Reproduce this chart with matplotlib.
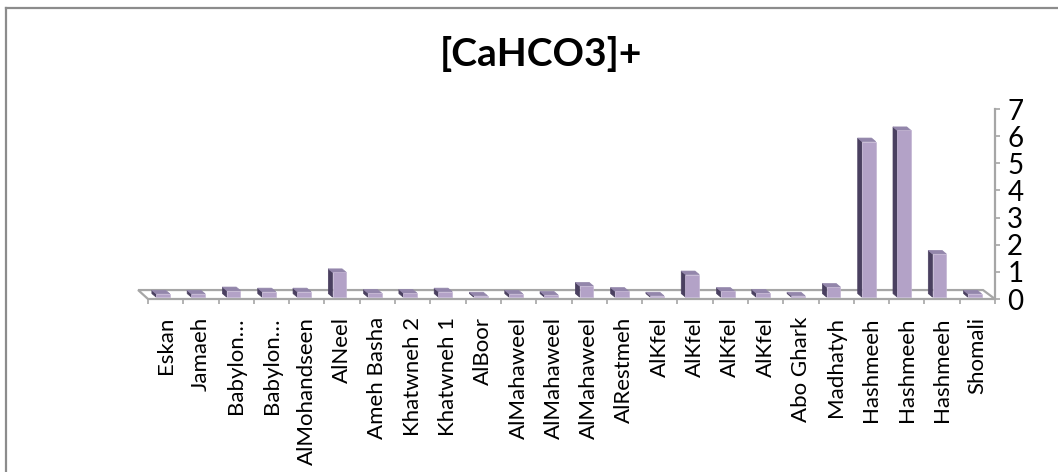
import matplotlib.pyplot as plt
from matplotlib.patches import Polygon, Rectangle
from matplotlib.lines import Line2D

plt.rcParams['font.family'] = ['Lato', 'DejaVu Sans']

sites = ['Eskan', 'Jamaeh', 'Babylon…', 'Babylon…', 'AlMohandseen', 'AlNeel',
         'Ameh Basha', 'Khatwneh 2', 'Khatwneh 1', 'AlBoor', 'AlMahaweel',
         'AlMahaweel', 'AlMahaweel', 'AlRestmeh', 'AlKfel', 'AlKfel', 'AlKfel',
         'AlKfel', 'Abo Ghark', 'Madhatyh', 'Hashmeeh', 'Hashmeeh', 'Hashmeeh',
         'Shomali']
cahco3 = [0.12, 0.12, 0.24, 0.2, 0.2, 0.91, 0.15, 0.15, 0.2, 0.05, 0.12, 0.08,
          0.41, 0.22, 0.05, 0.83, 0.22, 0.15, 0.05, 0.37, 5.73, 6.14, 1.59, 0.12]
yticks = [0, 1, 2, 3, 4, 5, 6, 7]

W, H = 1058, 472
fig = plt.figure(figsize=(W / 100, H / 100), dpi=100)
fig.patch.set_facecolor('white')

# chart frame (only left and top edges fall inside the picture)
frame = '#8C8C8C'
fig.add_artist(Line2D([5.5 / W, 5.5 / W], [0, 1 - 7.5 / H], transform=fig.transFigure,
                      color=frame, lw=1.6))
fig.add_artist(Line2D([5.5 / W, 1], [1 - 7.5 / H, 1 - 7.5 / H], transform=fig.transFigure,
                      color=frame, lw=1.6))

fig.text(541 / W, 1 - 54 / H, '[CaHCO3]+', ha='center', va='center',
         fontsize=28, fontweight='bold')

ax = fig.add_axes([148 / W, (H - 299) / H, 847 / W, 190 / H])
ax.set_xlim(-0.5, len(sites) - 0.5)
ax.set_ylim(0, 7)
ax.patch.set_alpha(0)

grey = '#A6A6A6'
n = len(sites)

# floor of the 3-D plot area
floor = Polygon([(-0.5, 0), (n - 0.5, 0), (n - 0.5 - 0.34, 0.33), (-0.5 - 0.28, 0.33)],
                closed=True, facecolor='white', edgecolor=grey, lw=1.6,
                clip_on=False, zorder=1)
ax.add_patch(floor)

# columns: front face, dark left side, top
depth_x, depth_y = 0.12, 0.13
base = 0.07
for i, v in enumerate(cahco3):
    x0, x1 = i - 0.27, i + 0.12
    y0, y1 = base, v + base
    ax.add_patch(Polygon([(x0, y0), (x0 - depth_x, y0 + depth_y),
                          (x0 - depth_x, y1 + depth_y), (x0, y1)],
                         closed=True, facecolor='#4A4060', edgecolor='#4A4060',
                         lw=0.5, clip_on=False, zorder=3))
    ax.add_patch(Polygon([(x0, y1), (x0 - depth_x, y1 + depth_y),
                          (x1 - depth_x, y1 + depth_y), (x1, y1)],
                         closed=True, facecolor='#9386AB', edgecolor='#9386AB',
                         lw=0.5, clip_on=False, zorder=3))
    ax.add_patch(Rectangle((x0, y0), x1 - x0, y1 - y0, facecolor='#B3A2C7',
                           edgecolor='#C3B5D3', lw=0.5, clip_on=False, zorder=4))

for s in ['left', 'top', 'bottom']:
    ax.spines[s].set_visible(False)
ax.spines['right'].set_color(grey)
ax.spines['right'].set_linewidth(1.6)

ax.yaxis.tick_right()
ax.set_yticks(yticks)
ax.set_yticklabels([str(t) for t in yticks])
ax.tick_params(axis='y', direction='out', length=3.8, width=1.2, color=grey,
               pad=5, labelsize=20)

ax.set_xticks(range(n))
ax.set_xticklabels(sites, rotation=90, va='top', ha='center')
ax.set_xticks([k - 0.5 for k in range(n + 1)], minor=True)
ax.tick_params(axis='x', which='major', length=0, pad=13, labelsize=16)
ax.tick_params(axis='x', which='minor', direction='out', length=3.8, width=1.2,
               color=grey)

fig.savefig('out.png', dpi=100)
